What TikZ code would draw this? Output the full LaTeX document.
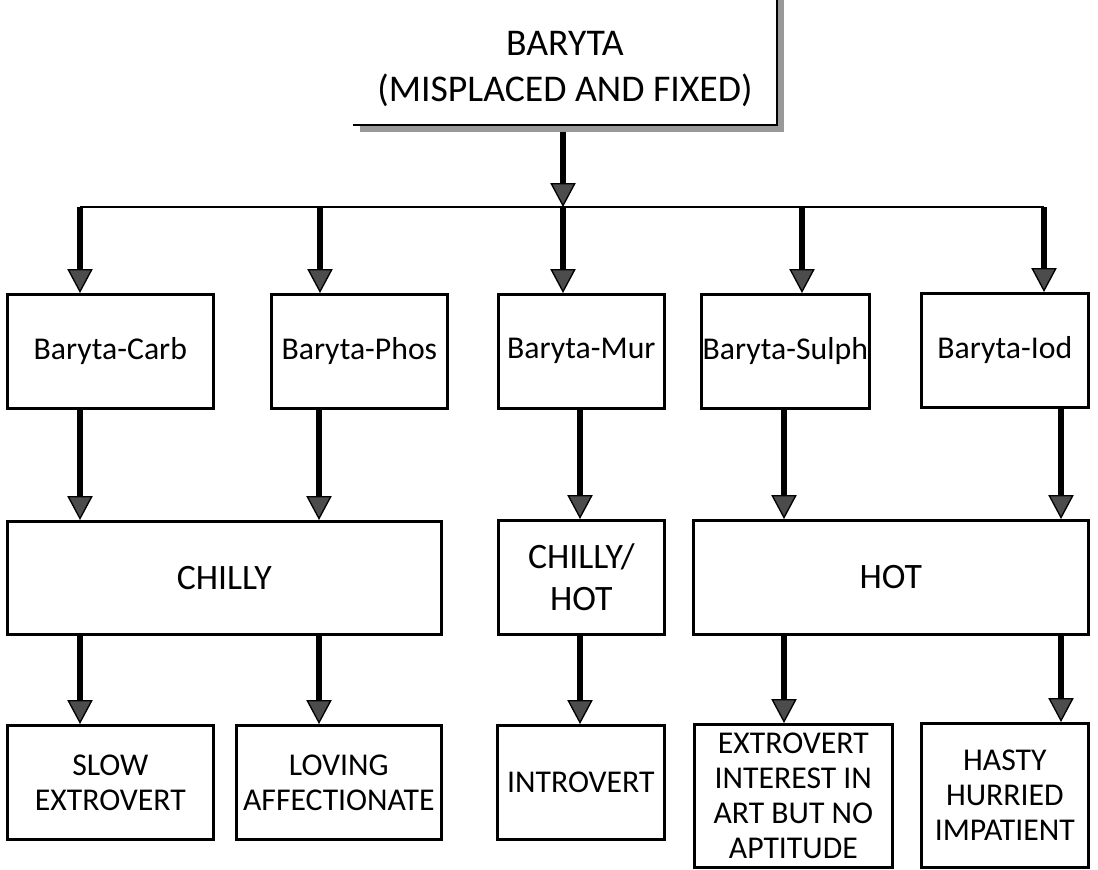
\documentclass[tikz,border=0pt]{standalone}
\usepackage{fontspec}
\setmainfont{Carlito}
\usepackage{tikz}
\usetikzlibrary{arrows.meta}

\tikzset{
    box/.style = {draw, line width=2pt, inner sep=0pt, anchor=north west,
        align=center, font=\fontsize{23.8}{26.3}\selectfont},
    bigbox/.style = {box, font=\fontsize{26.8}{31.5}\selectfont},
    flow/.style = {line width=4pt, black,
        -{Triangle[length=18pt, width=19pt, line width=1pt, fill=black!70]}},
}

\begin{document}
\begin{tikzpicture}[x=0.75pt, y=-0.75pt]
    \useasboundingbox (0,0) rectangle (1098,869);

    %% title with shadow
    \fill[black!40] (360,0) rectangle (784,132);
    \fill[white] (353,0) rectangle (777,125);
    \draw[line width=0.8pt] (777,0) -- (777,125) -- (353,125);
    \node[align=center, font=\fontsize{28.3}{34}\selectfont] (top) at (565,69)
        {BARYTA\\(MISPLACED AND FIXED)};
    \coordinate (topb) at (563,132);

    %% columns
    \coordinate (c1) at (80,207);
    \coordinate (c2) at (320,207);
    \coordinate (c3) at (563,207);
    \coordinate (c4) at (802,207);
    \coordinate (c5) at (1044,207);
    \coordinate (d1) at (80,0);
    \coordinate (d2) at (319,0);
    \coordinate (d3) at (580,0);
    \coordinate (d4) at (784,0);
    \coordinate (d5) at (1061,0);

    %% remedies
    \node[box, minimum width=154.5pt, minimum height=85.5pt] (carb) at (6,293) {Baryta-Carb};
    \node[box, minimum width=132pt, minimum height=85.5pt] (phos) at (270,293) {Baryta-Phos};
    \node[box, minimum width=124.5pt, minimum height=85.5pt] (mur) at (497,293) {Baryta-Mur};
    \node[box, minimum width=126pt, minimum height=85.5pt] (sulph) at (700,293) {Baryta-Sulph};
    \node[box, minimum width=125.25pt, minimum height=85.5pt] (iod) at (920,292) {Baryta-Iod};

    %% thermal
    \node[bigbox, minimum width=325.5pt, minimum height=84.75pt] (chilly) at (6,520) {CHILLY};
    \node[bigbox, minimum width=124.5pt, minimum height=85.5pt] (chot) at (497,519) {CHILLY/\\HOT};
    \node[bigbox, minimum width=296.25pt, minimum height=85.5pt] (hot) at (692,519) {HOT};

    %% mind
    \node[box, minimum width=154.5pt, minimum height=85.5pt] (slow) at (6,724) {SLOW\\EXTROVERT};
    \node[box, minimum width=153.75pt, minimum height=85.5pt] (loving) at (235,724) {LOVING\\AFFECTIONATE};
    \node[box, minimum width=125.25pt, minimum height=85.5pt] (intro) at (496,724) {INTROVERT};
    \node[box, minimum width=148.5pt, minimum height=107.25pt] (extro) at (693,723)
        {EXTROVERT\\INTEREST IN\\ART BUT NO\\APTITUDE};
    \node[box, minimum width=125.25pt, minimum height=108pt] (hasty) at (920,722)
        {HASTY\\HURRIED\\IMPATIENT};

    %% connectors
    \draw[flow] (topb) -- (c3);
    \draw[line width=2pt] (c1) -- (c5);
    \foreach \c/\n in {c1/carb, c2/phos, c3/mur, c4/sulph, c5/iod}
        \draw[flow] (\c) -- (\n.north -| \c);
    \foreach \d/\a/\b in {d1/carb/chilly, d2/phos/chilly, d3/mur/chot, d4/sulph/hot, d5/iod/hot}
        \draw[flow] (\a.south -| \d) -- (\b.north -| \d);
    \foreach \d/\a/\b in {d1/chilly/slow, d2/chilly/loving, d3/chot/intro, d4/hot/extro, d5/hot/hasty}
        \draw[flow] (\a.south -| \d) -- (\b.north -| \d);
\end{tikzpicture}
\end{document}
